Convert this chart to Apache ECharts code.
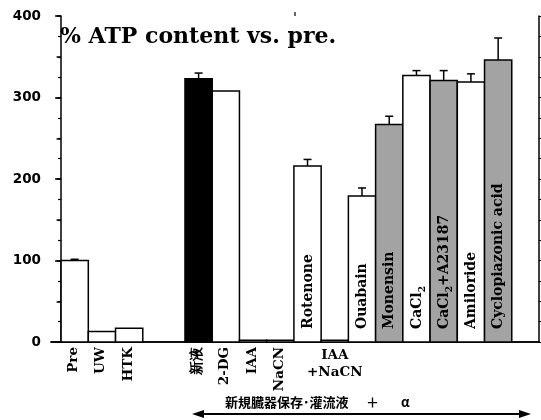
<!DOCTYPE html>
<html>
<head>
<meta charset="utf-8">
<script src="https://cdn.jsdelivr.net/npm/echarts@6/dist/echarts.min.js"></script>
<style>html,body{margin:0;padding:0;background:#fff}#c{width:541px;height:420px}</style>
</head>
<body>
<div id="c"></div>
<script>
// ---- data ----
const categories = ['Pre', 'UW', 'HTK', '新液', '2-DG', 'IAA', 'NaCN', 'Rotenone', 'IAA\n+NaCN', 'Ouabain', 'Monensin', 'CaCl2', 'CaCl2+A23187', 'Amiloride', 'Cyclopiazonic acid'];
const values = [100, 13, 17, 323, 308, 2, 2, 216, 2, 179, 267, 327, 321, 319, 346];
const errors = [1.5, 0, 0, 7, 0, 0, 0, 8, 0, 10, 10, 6, 12, 10, 27];
const fillKind = ['white', 'white', 'white', 'black', 'white', 'white', 'white', 'white', 'white', 'white', 'gray', 'white', 'gray', 'white', 'gray'];
const labelPlace = ['below', 'below', 'below', 'below', 'below', 'below', 'below', 'inside', 'belowH', 'inside', 'inside', 'inside', 'inside', 'inside', 'inside'];
const yTickLabels = [0, 100, 200, 300, 400];
const titleText = '% ATP content vs. pre.';
const bottomParts = ['新規臓器保存･灌流液', '＋', 'α'];

// ---- layout helpers ----
const FIRST_GROUP = 3;   // Pre, UW, HTK
const GAP = 1.55;        // empty space (in bar widths) between groups
const FILLS = { white: '#ffffff', black: '#000000', gray: '#a3a3a3' };
const SERIF = '"DejaVu Serif", serif';
const CJK = '"Noto Sans CJK JP", sans-serif';
const xLeft = categories.map((c, i) => (i < FIRST_GROUP ? i : i + GAP));
const data = categories.map((c, i) => [xLeft[i], values[i], errors[i], i]);

function richFor(text) {
  if (text.indexOf('CaCl2') === 0) {
    return '{n|CaCl}{s|2}{n|' + text.slice(5) + '}';
  }
  return '{n|' + text + '}';
}
const rich = {
  n: { fontFamily: SERIF, fontWeight: 'bold', fontSize: 14, lineHeight: 20, fill: '#000' },
  s: { fontFamily: SERIF, fontWeight: 'bold', fontSize: 9, lineHeight: 9, verticalAlign: 'bottom', fill: '#000' }
};

function renderItem(params, api) {
  const x0 = api.value(0), v = api.value(1), e = api.value(2), i = api.value(3);
  const p1 = api.coord([x0, v]);
  const p2 = api.coord([x0 + 1, 0]);
  const cx = (p1[0] + p2[0]) / 2;
  const base = p2[1];
  const children = [{
    type: 'rect',
    shape: { x: p1[0], y: p1[1], width: p2[0] - p1[0], height: p2[1] - p1[1] },
    style: { fill: FILLS[fillKind[i]], stroke: '#000', lineWidth: 1.5 }
  }];
  if (e > 0) {
    const pt = api.coord([x0 + 0.5, v + e]);
    children.push({ type: 'line', shape: { x1: cx, y1: p1[1], x2: cx, y2: pt[1] }, style: { stroke: '#000', lineWidth: 1.5 } });
    children.push({ type: 'line', shape: { x1: cx - 4, y1: pt[1], x2: cx + 4, y2: pt[1] }, style: { stroke: '#000', lineWidth: 1.5 } });
  }
  const place = labelPlace[i];
  const txt = categories[i];
  if (place === 'inside') {
    children.push({
      type: 'text', x: cx + 0.5, y: base - 13, rotation: Math.PI / 2,
      style: { text: richFor(txt), rich: rich, align: 'left', verticalAlign: 'middle' }
    });
  } else if (place === 'below') {
    children.push({
      type: 'text', x: cx - 1, y: base + 5, rotation: Math.PI / 2,
      style: { text: txt, fontFamily: SERIF, fontWeight: 'bold', fontSize: 13.5, fill: '#000', align: 'right', verticalAlign: 'middle' }
    });
  } else {
    children.push({
      type: 'text', x: cx, y: base + 5,
      style: { text: txt, fontFamily: SERIF, fontWeight: 'bold', fontSize: 13.5, lineHeight: 17, fill: '#000', align: 'center', verticalAlign: 'top' }
    });
  }
  return { type: 'group', children: children };
}

const chart = echarts.init(document.getElementById('c'));
const lineStyle = { color: '#000', width: 1.5 };
const cjkStyle = (t) => ({ text: t, fontFamily: CJK, fontWeight: 'bold', fontSize: 13, fill: '#000' });
chart.setOption({
  animation: false,
  backgroundColor: '#fff',
  grid: { left: 51, right: 2, top: 16, bottom: 78, containLabel: false },
  xAxis: [
    { type: 'value', min: -0.37, max: 17.55, axisLine: { show: true, onZero: false, lineStyle: lineStyle }, axisTick: { show: false }, axisLabel: { show: false }, splitLine: { show: false } },
    { type: 'value', position: 'top', min: -0.37, max: 17.55, axisLine: { show: true, lineStyle: lineStyle }, axisTick: { show: false }, axisLabel: { show: false }, splitLine: { show: false } }
  ],
  yAxis: [
    {
      type: 'value', position: 'left', min: yTickLabels[0], max: yTickLabels[yTickLabels.length - 1], interval: yTickLabels[1] - yTickLabels[0],
      axisLine: { show: true, lineStyle: lineStyle },
      axisTick: { show: true, inside: false, length: 6, lineStyle: lineStyle },
      minorTick: { show: true, splitNumber: 4, length: 3, lineStyle: { color: '#000', width: 1.2 } },
      axisLabel: { margin: 10, color: '#000', fontFamily: '"DejaVu Sans", sans-serif', fontWeight: 'bold', fontSize: 13.5 },
      splitLine: { show: false }
    },
    {
      type: 'value', position: 'left', min: 0, max: 400, interval: 50,
      axisLine: { show: false }, axisTick: { show: true, length: 4.5, lineStyle: lineStyle },
      axisLabel: { show: false }, splitLine: { show: false }
    },
    {
      type: 'value', position: 'right', min: 0, max: 400, interval: 25,
      axisLine: { show: true, lineStyle: lineStyle }, axisTick: { show: true, inside: false, length: 3, lineStyle: { color: '#000', width: 1.2 } },
      axisLabel: { show: false }, splitLine: { show: false }
    }
  ],
  title: {
    text: titleText, left: 60, top: 26, padding: 0,
    textStyle: { fontFamily: SERIF, fontWeight: 'bold', fontSize: 22, color: '#000' }
  },
  series: [{
    type: 'custom', xAxisIndex: 0, yAxisIndex: 0, renderItem: renderItem, data: data, clip: false
  }],
  graphic: [
    { type: 'text', left: 225, top: 396, style: cjkStyle(bottomParts[0]) },
    { type: 'text', left: 366, top: 396, style: cjkStyle(bottomParts[1]) },
    { type: 'text', left: 401, top: 396, style: cjkStyle(bottomParts[2]) },
    { type: 'line', shape: { x1: 200, y1: 414, x2: 523, y2: 414 }, style: { stroke: '#000', lineWidth: 2 } },
    { type: 'polygon', shape: { points: [[192, 414], [204, 410], [204, 418]] }, style: { fill: '#000' } },
    { type: 'polygon', shape: { points: [[531, 414], [519, 410], [519, 418]] }, style: { fill: '#000' } },
    { type: 'line', shape: { x1: 295, y1: 12, x2: 295, y2: 16 }, style: { stroke: '#000', lineWidth: 1.2 } }
  ]
});
</script>
</body>
</html>
